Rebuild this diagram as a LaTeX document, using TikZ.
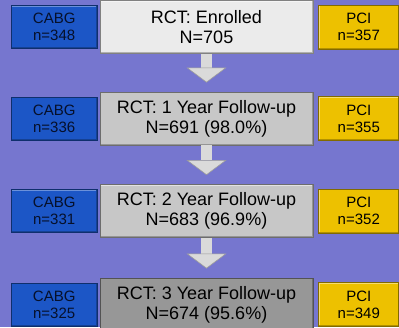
\documentclass[tikz,border=0pt]{standalone}
\usepackage{fontspec}
\setmainfont{Liberation Sans}
\usepackage{tikz}
\usetikzlibrary{arrows.meta}
\usetikzlibrary{positioning}

\definecolor{bgpurple}{HTML}{7676CF}
\definecolor{cabgblue}{HTML}{1C56C6}
\definecolor{cabgtext}{HTML}{06102A}
\definecolor{pciyellow}{HTML}{EDC100}
\definecolor{arrowgray}{HTML}{DADADA}
\definecolor{arrowedge}{HTML}{9A9A9A}
\definecolor{enrolgray}{HTML}{EBEBEB}
\definecolor{followgray}{HTML}{C7C7C7}
\definecolor{lastgray}{HTML}{979797}

\tikzset{
    bevel/.style 2 args={path picture={
        \draw[#1,line width=2.5pt]
            (path picture bounding box.south west) -- (path picture bounding box.north west)
            -- (path picture bounding box.north east);
        \draw[#2,line width=2.5pt]
            (path picture bounding box.north east) -- (path picture bounding box.south east)
            -- (path picture bounding box.south west);
    }}
}

\begin{document}
\begin{tikzpicture}[x=1pt,y=-1pt,node distance=2pt,
        box/.style={line width=.8pt,inner sep=0pt,align=center,text=black},
        trial/.style={box,fill=#1,draw=#1!55!black,bevel={#1!50!white}{#1!75!black},
            minimum width=213pt,minimum height=53pt,font=\fontsize{18}{20}\selectfont},
        cabg/.style={box,fill=cabgblue,draw=cabgblue!55!black,bevel={cabgblue!65!white}{cabgblue!75!black},
            minimum width=86pt,minimum height=43pt,font=\fontsize{15}{17}\selectfont,text=cabgtext},
        pci/.style={box,fill=pciyellow,draw=pciyellow!55!black,bevel={pciyellow!55!white}{pciyellow!75!black},
            minimum width=80pt,minimum height=44pt,font=\fontsize{15}{17}\selectfont},
        flow/.style={line width=11pt,arrowgray,-{Triangle[width=40pt,length=15pt,fill=arrowgray,color=arrowedge,line width=.6pt]},
            shorten >=9pt}]
        \fill[bgpurple] (0,0) rectangle (399,327);
        \useasboundingbox (0,0) rectangle (399,327);
        \clip (0,0) rectangle (399,327);
        \node [trial=enrolgray] (0) at (206.5,27) {RCT: Enrolled\\N=705};
        \node [trial=followgray] (1) at (206.5,118.5) {RCT: 1 Year Follow-up\\N=691 (98.0\%)};
        \node [trial=followgray] (2) at (206.5,211) {RCT: 2 Year Follow-up\\N=683 (96.9\%)};
        \node [trial=lastgray] (3) at (206.5,304.5) {RCT: 3 Year Follow-up\\N=674 (95.6\%)};
        \node [cabg] (c0) [left=of 0] {CABG\\n=348};
        \node [cabg] (c1) [left=of 1] {CABG\\n=336};
        \node [cabg] (c2) [left=of 2] {CABG\\n=331};
        \node [cabg] (c3) [left=of 3] {CABG\\n=325};
        \node [pci] (p0) [right=5pt of 0] {PCI\\n=357};
        \node [pci] (p1) [right=5pt of 1] {PCI\\n=355};
        \node [pci] (p2) [right=5pt of 2] {PCI\\n=352};
        \node [pci] (p3) [right=5pt of 3] {PCI\\n=349};
        \path[flow]
            (0) edge (1)
            (1) edge (2)
            (2) edge (3);
    \end{tikzpicture}
\end{document}
